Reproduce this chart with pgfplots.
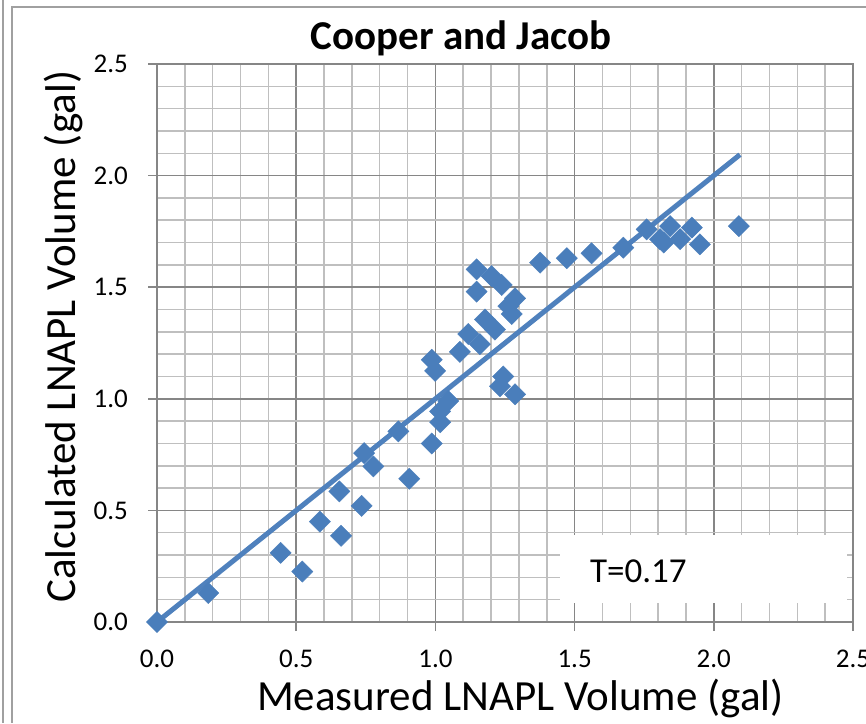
\documentclass[border=0pt]{standalone}
\usepackage{pgfplots}
\pgfplotsset{compat=1.18}
\usepackage{fontspec}
\setmainfont{Carlito}
\definecolor{ptblue}{HTML}{4A7EBB}
\definecolor{lnblue}{HTML}{4F81BD}
\definecolor{majgrid}{HTML}{868686}
\definecolor{mingrid}{HTML}{BFBFBF}
\definecolor{bord}{HTML}{A0A0A0}
\newcommand{\tickfont}{\fontsize{27}{27}\selectfont}
\begin{document}
\begin{tikzpicture}[x=1pt,y=1pt]
\path[use as bounding box] (0,0) rectangle (866,723);
\draw[bord, line width=1.5pt] (3,0) -- (3,723);
\draw[bord, line width=1.5pt] (12,0) -- (12,716) -- (866,716);
\begin{axis}[
  at={(157pt,101pt)}, anchor=south west,
  scale only axis, width=696pt, height=558pt,
  xmin=0, xmax=2.5, ymin=0, ymax=2.5,
  xtick={0,0.5,1,1.5,2,2.5}, ytick={0,0.5,1,1.5,2,2.5},
  xticklabels={0.0,0.5,1.0,1.5,2.0,2.5},
  yticklabels={0.0,0.5,1.0,1.5,2.0,2.5},
  minor tick num=4,
  grid=both,
  minor grid style={mingrid, line width=1.5pt},
  major grid style={majgrid, line width=1.5pt},
  axis line style={majgrid, line width=1.5pt},
  major tick style={majgrid, line width=1.5pt},
  major tick length=9pt, minor tick length=0pt,
  tick align=outside, tick pos=left,
  xticklabel style={font=\tickfont, anchor=north, inner sep=0pt, yshift=-19pt},
  yticklabel style={font=\tickfont, anchor=east, inner sep=0pt, xshift=-20pt},
  title={Cooper and Jacob},
  title style={at={(axis description cs:0.437,1.0161)}, anchor=base, font=\fontsize{41}{41}\selectfont\bfseries},
  xlabel={Measured LNAPL Volume (gal)},
  xlabel style={at={(axis description cs:0.522,-0.158)}, anchor=base, font=\fontsize{43}{43}\selectfont},
  ylabel={Calculated LNAPL Volume (gal)},
  ylabel style={at={(axis description cs:-0.1178,0.511)}, anchor=base, font=\fontsize{43}{43}\selectfont},
]
\fill[white] (axis cs:1.448,0.085) rectangle (axis cs:2.478,0.390);
\node[anchor=base west, inner sep=0pt, font=\fontsize{35}{35}\selectfont] at (axis cs:1.555,0.175) {T=0.17};
\addplot[lnblue, line width=5pt, no marks] coordinates {(0,0) (2.094,2.094)};
\addplot[only marks, mark=square*, mark size=7.5pt, mark options={fill=ptblue, draw=ptblue, rotate=45}] coordinates {
(0,0) (0.184,0.13) (0.444,0.31) (0.522,0.226) (0.585,0.45) (0.655,0.585)
(0.661,0.386) (0.735,0.52) (0.744,0.757) (0.777,0.697) (0.867,0.854)
(0.906,0.642) (0.987,0.80) (0.987,1.175) (0.999,1.125) (1.017,0.895)
(1.017,0.944) (1.046,0.99) (1.088,1.21) (1.118,1.29) (1.16,1.245)
(1.148,1.48) (1.148,1.58) (1.202,1.55) (1.238,1.51) (1.286,1.45)
(1.262,1.415) (1.274,1.38) (1.178,1.355) (1.214,1.31) (1.244,1.10)
(1.232,1.056) (1.286,1.02) (1.376,1.61) (1.472,1.63) (1.561,1.652)
(1.675,1.677) (1.759,1.759) (1.807,1.715) (1.82,1.70) (1.843,1.774)
(1.879,1.715) (1.921,1.767) (1.95,1.692) (2.09,1.774)
};
\end{axis}
\end{tikzpicture}
\end{document}
